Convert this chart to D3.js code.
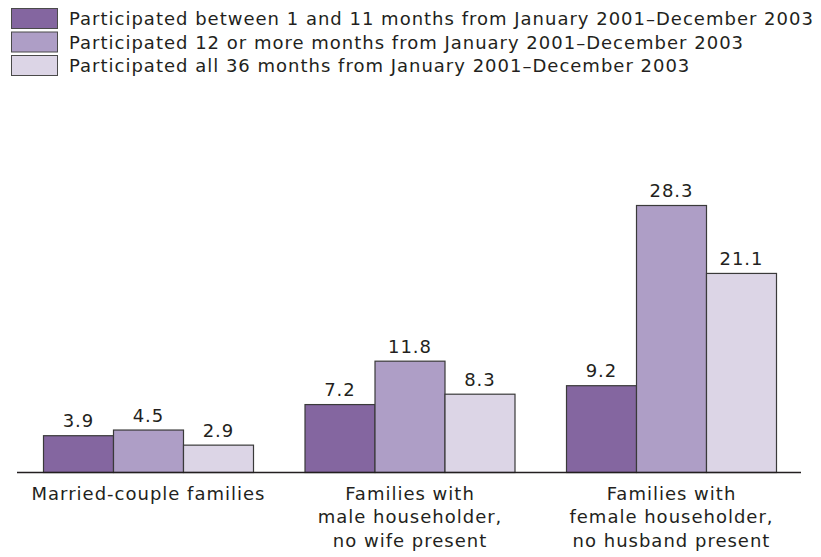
<!DOCTYPE html>
<html><head><meta charset="utf-8">
<script src="https://cdn.jsdelivr.net/npm/d3@7"></script>
<style>body{margin:0;background:#fff}svg{display:block}text{font-family:"DejaVu Sans",sans-serif;fill:#231f20;letter-spacing:1px}</style>
</head><body>
<script>
const categories = [["Married-couple families"],["Families with","male householder,","no wife present"],["Families with","female householder,","no husband present"]];
const seriesNames = ["Participated between 1 and 11 months from January 2001\u2013December 2003","Participated 12 or more months from January 2001\u2013December 2003","Participated all 36 months from January 2001\u2013December 2003"];
const s1 = [3.9, 7.2, 9.2];
const s2 = [4.5, 11.8, 28.3];
const s3 = [2.9, 8.3, 21.1];
const colors = ["#8466a0","#ae9ec6","#dcd5e6"];

const W=821,H=557;
const svg=d3.select("body").append("svg").attr("width",W).attr("height",H);
const series=[s1,s2,s3];
const base=472;
const y=d3.scaleLinear().domain([0,28.3]).range([base,205]);
const xs=d3.scaleLinear().domain([0,2]).range([43,566]);
const xi=d3.scaleBand().domain([0,1,2]).range([0,210]);

// legend
const lg=svg.append("g");
seriesNames.forEach((n,i)=>{
  const yy=8+i*23.5;
  lg.append("rect").attr("x",11.5).attr("y",yy+0.5).attr("width",46).attr("height",20).attr("fill",colors[i]).attr("stroke","#4a4a4a").attr("stroke-width",1);
  lg.append("text").attr("x",69).attr("y",yy+17).attr("font-size",18).text(n);
});

// bars
const g=svg.append("g");
[0,1,2].forEach(c=>{
  series.forEach((s,k)=>{
    const bx=xs(c)+xi(k);
    g.append("rect").attr("x",bx+0.5).attr("y",y(s[c])+0.5).attr("width",xi.bandwidth()).attr("height",base-y(s[c])).attr("fill",colors[k]).attr("stroke","#3a3a3a").attr("stroke-width",1.2);
    g.append("text").attr("x",bx+xi.bandwidth()/2+0.5).attr("y",y(s[c])-8).attr("text-anchor","middle").attr("font-size",18).text(s[c].toFixed(1));
  });
  categories[c].forEach((ln,j)=>{
    g.append("text").attr("x",xs(c)+105.5).attr("y",500+j*23.3).attr("text-anchor","middle").attr("font-size",18).text(ln);
  });
});
svg.append("line").attr("x1",17).attr("x2",801).attr("y1",base+0.5).attr("y2",base+0.5).attr("stroke","#231f20").attr("stroke-width",1.3);
</script>
</body></html>
